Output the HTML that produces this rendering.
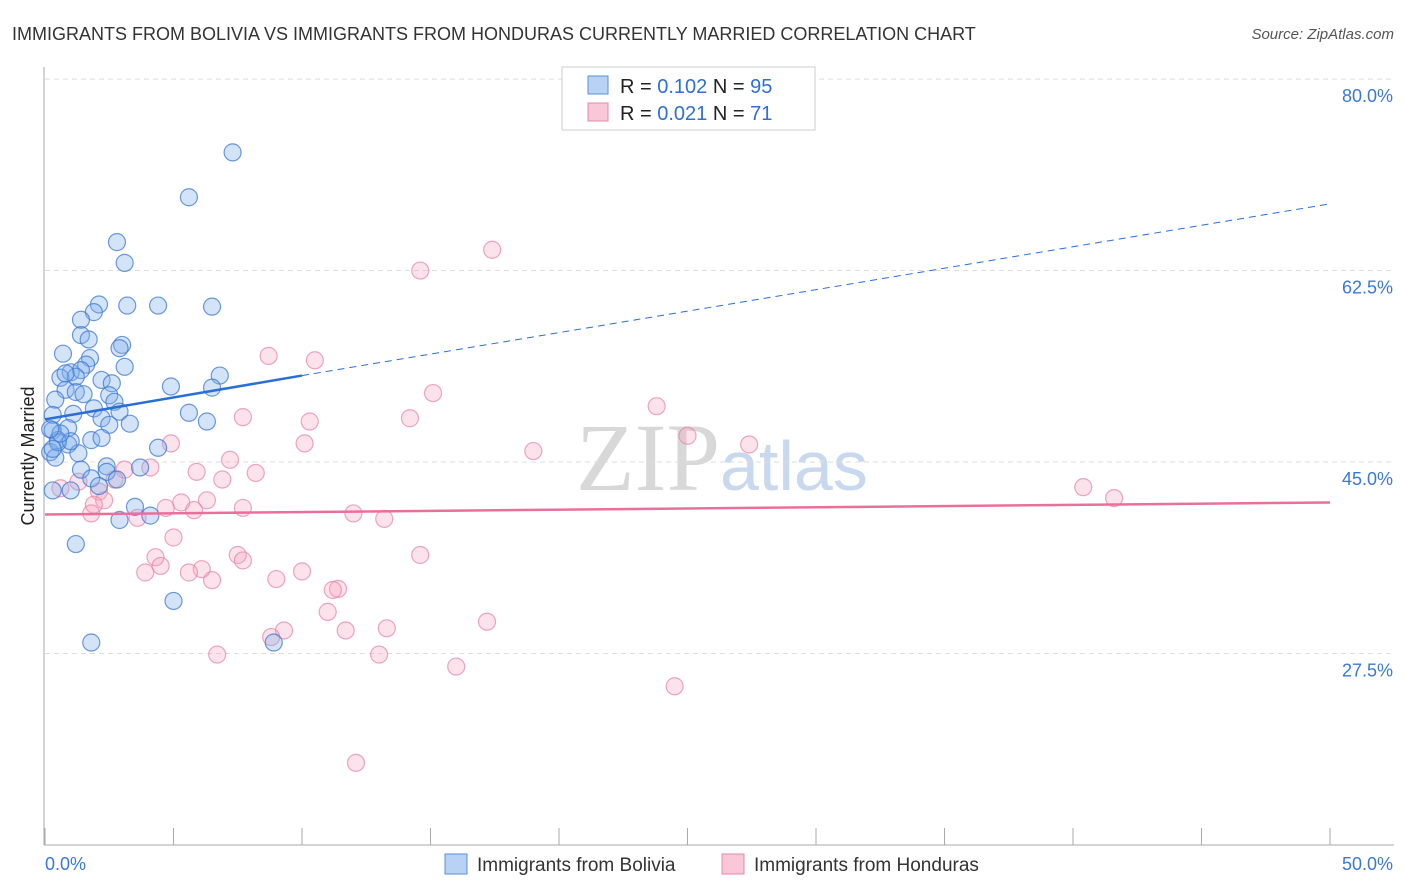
<!DOCTYPE html>
<html><head><meta charset="utf-8"><style>
body{margin:0;background:#fff;font-family:"Liberation Sans",sans-serif;}
svg{display:block}
</style></head><body>
<svg id="chart" width="1406" height="892">
<text x="12" y="40" font-size="18" fill="#333">IMMIGRANTS FROM BOLIVIA VS IMMIGRANTS FROM HONDURAS CURRENTLY MARRIED CORRELATION CHART</text>
<text x="1394" y="39" font-size="15" fill="#555" font-style="italic" text-anchor="end">Source: ZipAtlas.com</text>
<text x="34" y="456" font-size="18" fill="#222" text-anchor="middle" transform="rotate(-90 34 456)">Currently Married</text>
<text x="720" y="490" font-size="96" fill="#d8d8d8" font-family="Liberation Serif,serif" text-anchor="end">ZIP</text>
<text x="720" y="490" font-size="70" fill="#c8d8ee">atlas</text>
<g id="grid"></g><g id="marks"></g>
<g>
<rect x="562" y="67" width="253" height="63" fill="#fff" stroke="#ccc"/>
<rect x="588" y="76" width="20" height="18" fill="#b8d2f5" stroke="#5b8fd8"/>
<rect x="588" y="103" width="20" height="18" fill="#f8c8d8" stroke="#e58aa8"/>
<text x="620" y="93" font-size="20" fill="#222">R = <tspan fill="#2d6fd6">0.102</tspan>   N = <tspan fill="#2d6fd6">95</tspan></text>
<text x="620" y="120" font-size="20" fill="#222">R = <tspan fill="#2d6fd6">0.021</tspan>   N =  <tspan fill="#2d6fd6">71</tspan></text>
</g>
<g>
<rect x="445" y="854" width="22" height="20" fill="#b8d2f5" stroke="#5b8fd8"/>
<text x="477" y="871" font-size="19" fill="#333">Immigrants from Bolivia</text>
<rect x="722" y="854" width="22" height="20" fill="#f8c8d8" stroke="#e58aa8"/>
<text x="754" y="871" font-size="19" fill="#333">Immigrants from Honduras</text>
</g>
</svg>
<script>
const yTicks=[80,62.5,45,27.5];
const yTickLabels=["80.0%","62.5%","45.0%","27.5%"];
const xTickLabels=["0.0%","50.0%"];
const blueX=[7.3,5.6,2.8,3.1,2.1,3.2,4.4,6.5,1.9,1.4,1.4,1.7,3.0,2.9,1.75,0.7,1.6,3.1,1.0,1.4,0.6,2.2,6.8,4.9,6.5,2.6,0.8,1.2,2.5,0.4,2.7,1.9,1.1,2.9,5.6,0.3,2.2,3.3,2.5,6.3,0.9,0.3,1.8,0.9,0.5,2.2,4.4,0.2,1.3,0.4,2.4,3.7,1.4,2.4,1.8,2.8,2.1,1.0,0.3,3.5,4.1,2.9,1.2,5.0,1.8,8.9,0.5,1.2,0.8,0.3,1.5,1.0,0.6,0.2];
const blueY=[73.3,69.2,65.1,63.2,59.4,59.3,59.3,59.2,58.7,58.0,56.6,56.2,55.7,55.4,54.5,54.9,53.9,53.7,53.2,53.4,52.7,52.5,52.9,51.9,51.8,52.2,51.6,51.4,51.1,50.7,50.5,49.9,49.4,49.6,49.5,49.3,49.0,48.5,48.4,48.7,48.1,47.9,47.0,46.6,47.0,47.2,46.3,45.9,45.8,45.4,44.6,44.5,44.3,44.1,43.5,43.4,42.8,42.4,42.4,40.9,40.1,39.7,37.5,32.3,28.5,28.5,46.8,52.8,53.1,46.2,51.2,46.9,47.6,48.0];
const pinkX=[17.4,14.6,8.7,10.5,15.1,23.8,7.7,10.3,14.2,25.0,10.1,4.9,27.4,19.0,7.2,4.1,5.9,8.2,3.1,6.9,2.7,1.3,40.4,41.6,0.6,2.1,6.3,5.3,2.3,1.9,4.7,7.7,5.8,12.0,13.2,1.8,3.6,5.0,4.3,7.5,7.7,14.6,4.5,3.9,6.1,5.6,10.0,6.5,9.0,11.4,11.2,11.0,17.2,13.3,9.3,11.7,8.8,13.0,6.7,16.0,24.5,12.1];
const pinkY=[64.4,62.5,54.7,54.3,51.3,50.1,49.1,48.7,49.0,47.4,46.7,46.7,46.6,46.0,45.2,44.5,44.1,44.0,44.3,43.4,43.4,43.2,42.7,41.7,42.6,42.3,41.5,41.3,41.5,41.1,40.8,40.8,40.6,40.3,39.8,40.3,39.9,38.1,36.3,36.5,36.0,36.5,35.5,34.9,35.2,34.9,35.0,34.2,34.3,33.4,33.3,31.3,30.4,29.8,29.6,29.6,29.0,27.4,27.4,26.3,24.5,17.5];
const blueTrend=[48.9,52.9,68.6]; // at x=0, 10, 50
const pinkTrend=[40.2,41.3];
const X=v=>45+v*25.7, Y=v=>462-(v-45)*10.94;
const ns="http://www.w3.org/2000/svg";
function mk(t,a,p){const e=document.createElementNS(ns,t);for(const k in a)e.setAttribute(k,a[k]);p.appendChild(e);return e;}
const g=document.getElementById('grid'),m=document.getElementById('marks');
yTicks.forEach((t,i)=>{
 const l=mk('line',{x1:45,x2:1394,y1:Y(t),y2:Y(t),stroke:'#ddd','stroke-dasharray':'5,4'},g);
 
 
 const tx=mk('text',{x:1393,y:Y(t)+23,'font-size':18,fill:'#3a78d8','text-anchor':'end'},g);
 tx.textContent=yTickLabels[i];
 
 
});
mk('line',{x1:44,x2:44,y1:67,y2:845,stroke:'#aaa'},g);
mk('line',{x1:44,x2:1394,y1:845,y2:845,stroke:'#aaa'},g);
for(let i=0;i<=10;i++){mk('line',{x1:X(i*5),x2:X(i*5),y1:828,y2:845,stroke:'#aaa'},g);}
xTickLabels.forEach((s,i)=>{
 const tx=mk('text',{x:i?1393:45,y:870,'font-size':18,fill:'#3a78d8','text-anchor':i?'end':'start'},g);
 tx.textContent=s;
 
 
});
pinkX.forEach((x,i)=>{
 const c=mk('circle',{cx:X(x),cy:Y(pinkY[i]),r:8.5,fill:'rgba(244,160,190,0.3)',stroke:'rgba(230,130,165,0.7)','stroke-width':1.2},m);
 
 
});
blueX.forEach((x,i)=>{
 const c=mk('circle',{cx:X(x),cy:Y(blueY[i]),r:8.5,fill:'rgba(130,175,235,0.35)',stroke:'rgba(60,120,210,0.75)','stroke-width':1.2},m);
 
 
});
const b1=mk('line',{x1:X(0),y1:Y(blueTrend[0]),x2:X(10),y2:Y(blueTrend[1]),stroke:'#2a6fd6','stroke-width':2.5},m);


const b2=mk('line',{x1:X(10),y1:Y(blueTrend[1]),x2:X(50),y2:Y(blueTrend[2]),stroke:'#2a6fd6','stroke-width':1,'stroke-dasharray':'7,5'},m);


const p1=mk('line',{x1:X(0),y1:Y(pinkTrend[0]),x2:X(50),y2:Y(pinkTrend[1]),stroke:'#e8709a','stroke-width':2.5},m);


</script>
</body></html>
